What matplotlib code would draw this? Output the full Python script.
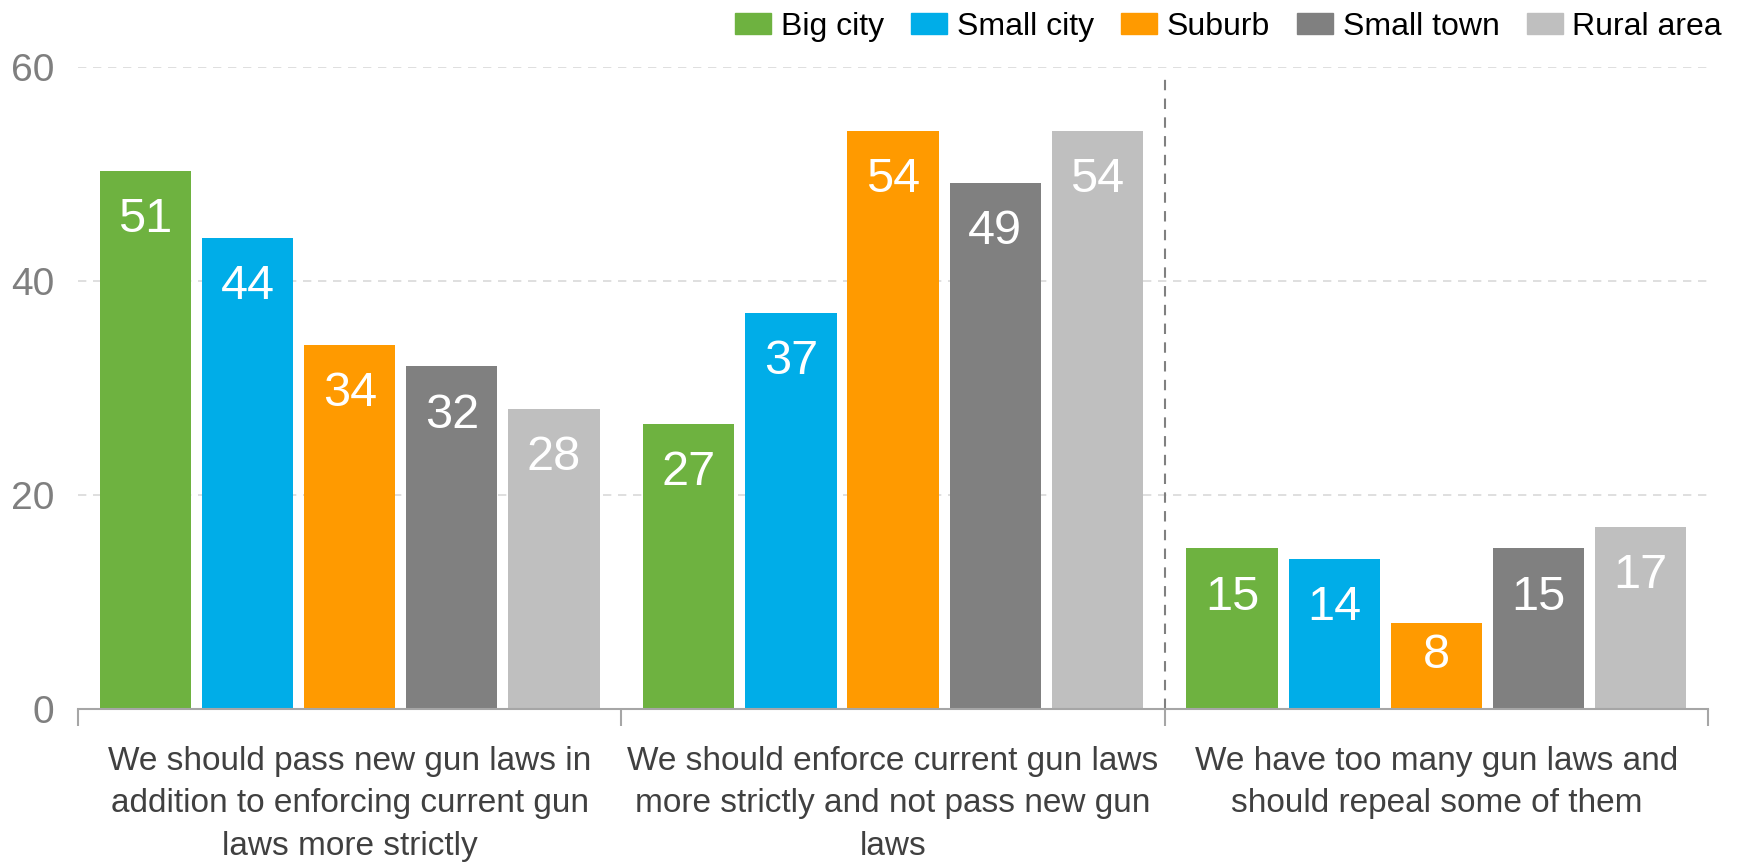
import matplotlib.pyplot as plt
from matplotlib.patches import Patch
import numpy as np

plt.rcParams['font.family'] = ['Liberation Sans', 'DejaVu Sans']

# Data
categories = [
    "We should pass new gun laws in\naddition to enforcing current gun\nlaws more strictly",
    "We should enforce current gun laws\nmore strictly and not pass new gun\nlaws",
    "We have too many gun laws and\nshould repeal some of them",
]
series_names = ["Big city", "Small city", "Suburb", "Small town", "Rural area"]
big_city = [50.3, 26.6, 15.0]
small_city = [44.0, 37.0, 14.0]
suburb = [34.0, 54.0, 8.0]
small_town = [32.0, 49.1, 15.0]
rural_area = [28.0, 54.0, 17.0]
big_city_lbl = [51, 27, 15]
small_city_lbl = [44, 37, 14]
suburb_lbl = [34, 54, 8]
small_town_lbl = [32, 49, 15]
rural_area_lbl = [28, 54, 17]
yticks = [0, 20, 40, 60]

series = [big_city, small_city, suburb, small_town, rural_area]
labels = [big_city_lbl, small_city_lbl, suburb_lbl, small_town_lbl, rural_area_lbl]
colors = ["#6EB240", "#00ADE8", "#FF9A00", "#808080", "#BFBFBF"]

fig = plt.figure(figsize=(17.42, 8.63), dpi=100)
ax = fig.add_axes([0.0448, 0.1785, 0.9357, 0.7442])

x = np.arange(len(categories))
step = 0.188
width = 0.168
pt_per_unit = ax.get_position().height * 8.63 * 72 / 60

for i, (vals, lbls, c) in enumerate(zip(series, labels, colors)):
    xs = x + (i - 2) * step
    ax.bar(xs, vals, width=width, color=c, zorder=3)
    for xi, v, l in zip(xs, vals, lbls):
        off = min(35, 0.37 * v * pt_per_unit)
        ax.annotate(str(l), (xi, v), xytext=(0, -off), textcoords="offset points",
                    ha="center", va="center", color="white", fontsize=35, zorder=4)

ax.set_xlim(-0.5, 2.5)
ax.set_ylim(0, 60)

# gridlines
for t in yticks[1:]:
    ax.axhline(t, color="#D9D9D9", lw=1.2, ls=(0, (5, 4)), zorder=1)
ax.plot([1.5, 1.5], [0, 59.3], color="#808080", lw=1.5, ls=(0, (5, 4)), zorder=2)

ax.set_yticks(yticks)
ax.set_yticklabels([str(t) for t in yticks], color="#7F7F7F", fontsize=28)
ax.tick_params(axis="y", length=0, pad=17)

ax.set_xticks(x)
ax.set_xticklabels(categories, fontsize=24, color="#404040", linespacing=1.46)
ax.set_xticks([-0.5, 0.5, 1.5, 2.5], minor=True)
ax.tick_params(axis="x", which="major", length=0, pad=27)
ax.tick_params(axis="x", which="minor", length=12, color="#A6A6A6", width=1.5)

for s in ["top", "right", "left"]:
    ax.spines[s].set_visible(False)
ax.spines["bottom"].set_color("#A6A6A6")
ax.spines["bottom"].set_linewidth(1.5)
ax.spines["bottom"].set_zorder(5)

handles = [Patch(color=c) for c in colors]
fig.legend(handles, series_names, loc="center right", bbox_to_anchor=(0.9885, 0.969),
           ncol=5, frameon=False, fontsize=23, handlelength=1.13, handleheight=0.66,
           handletextpad=0.3, columnspacing=0.85, borderaxespad=0, borderpad=0)

fig.savefig("out.png", dpi=100)
